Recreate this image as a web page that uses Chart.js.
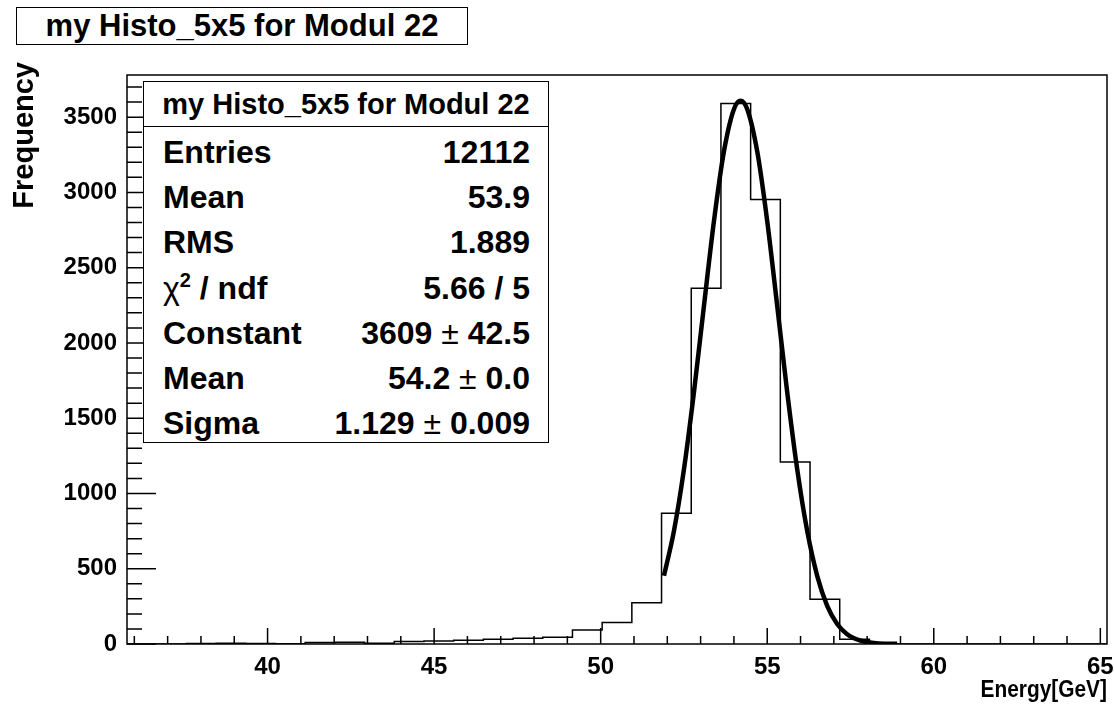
<!DOCTYPE html>
<html>
<head>
<meta charset="utf-8">
<title>my Histo_5x5 for Modul 22</title>
<script src="https://cdn.jsdelivr.net/npm/chart.js@4.4.1/dist/chart.umd.min.js"></script>
<style>
  body { margin: 0; background: #fff; }
  #wrap { position: relative; width: 1114px; height: 706px; font-family: "Liberation Sans", Arial, sans-serif; font-weight: bold; color: #000; }
  #c { position: absolute; left: 0; top: 0; }
  .box { position: absolute; box-sizing: border-box; border: 1.5px solid #000; background: #fff; }
  #titleBox { left: 16px; top: 7px; width: 452px; height: 38px; font-size: 31px; line-height: 36px; text-align: center; }
  #statsBox { left: 143px; top: 81px; width: 406px; height: 362px; }
  #statsHead { height: 45px; border-bottom: 1.5px solid #000; box-sizing: border-box; font-size: 29px; line-height: 44px; text-align: center; }
  .row { display: flex; justify-content: space-between; height: 45.2px; line-height: 50px; font-size: 32px; padding: 0 18px 0 19px; }
  .sym { font-weight: normal; }
  sup { font-size: 20px; line-height: 0; }
</style>
</head>
<body>
<div id="wrap">
  <canvas id="c" width="1114" height="706"></canvas>
  <div id="titleBox" class="box"></div>
  <div id="statsBox" class="box"><div id="statsHead"></div><div id="statsRows"></div></div>
</div>
<script>
// histogram: 33 bins between histMin and histMax
const histTitle = 'my Histo_5x5 for Modul 22';
const histMin = 35.78;
const histMax = 65.2;
const binCounts = [0, 0, 4, 5, 4, 1, 10, 12, 5, 16, 20, 25, 31, 38, 45, 93, 142, 274, 869,
  2363, 3590, 2953, 1209, 298, 31, 2, 0, 0, 0, 0, 0, 0, 0];

// gaussian fit curve
const fitX = [51.9, 52.2, 52.5, 52.8, 53.1, 53.4, 53.7, 54.0, 54.2, 54.4, 54.7, 55.0, 55.3,
  55.6, 55.9, 56.2, 56.5, 56.8, 57.1, 57.4, 57.8, 58.2, 58.6, 58.9];
const fitY = [453, 751, 1161, 1673, 2245, 2808, 3272, 3553, 3609, 3553, 3272, 2808, 2245,
  1673, 1161, 751, 453, 254, 133, 65, 22, 7, 2, 1];

const xTickLabels = [40, 45, 50, 55, 60, 65];
const yTickLabels = [0, 500, 1000, 1500, 2000, 2500, 3000, 3500];
const yMax = 3780;

const statNames = ['Entries', 'Mean', 'RMS', '<span class="sym">&chi;</span><sup>2</sup> / ndf', 'Constant', 'Mean', 'Sigma'];
const statValues = ['12112', '53.9', '1.889', '5.66 / 5',
  '3609 <span class="sym">&plusmn;</span> 42.5', '54.2 <span class="sym">&plusmn;</span> 0.0', '1.129 <span class="sym">&plusmn;</span> 0.009'];

document.getElementById('titleBox').textContent = histTitle;
document.getElementById('statsHead').textContent = histTitle;
const rows = document.getElementById('statsRows');
statNames.forEach((n, i) => {
  const r = document.createElement('div');
  r.className = 'row';
  r.innerHTML = '<span>' + n + '</span><span>' + statValues[i] + '</span>';
  rows.appendChild(r);
});

// step points for the histogram outline
const binWidth = (histMax - histMin) / binCounts.length;
const histPoints = [{ x: histMin, y: 0 }];
binCounts.forEach((c, i) => histPoints.push({ x: histMin + i * binWidth, y: c }));
histPoints.push({ x: histMax, y: 0 });

const fitPoints = fitX.map((x, i) => ({ x: x, y: fitY[i] }));

const tickFont = { family: '"Liberation Sans", Arial, sans-serif', size: 24, weight: 'bold' };

// ROOT style frame, inner ticks and axis titles
const rootAxes = {
  id: 'rootAxes',
  afterDraw(chart) {
    const ctx = chart.ctx;
    const a = chart.chartArea;
    const xs = chart.scales.x, ys = chart.scales.y;
    ctx.save();
    ctx.strokeStyle = '#000';
    ctx.lineWidth = 1.5;
    ctx.strokeRect(a.left, a.top, a.right - a.left, a.bottom - a.top);
    ctx.beginPath();
    for (let v = 36; v <= 65; v++) {
      const px = xs.getPixelForValue(v);
      const len = v % 5 === 0 ? 16 : 8;
      ctx.moveTo(px, a.bottom);
      ctx.lineTo(px, a.bottom - len);
    }
    for (let v = 0; v <= 3700; v += 100) {
      const py = ys.getPixelForValue(v);
      const len = v % 500 === 0 ? 29 : 15;
      ctx.moveTo(a.left, py);
      ctx.lineTo(a.left + len, py);
    }
    ctx.stroke();

    ctx.fillStyle = '#000';
    ctx.textAlign = 'right';
    ctx.textBaseline = 'middle';
    // x title, a bit condensed like the ROOT font
    ctx.save();
    ctx.translate(a.right, 690);
    ctx.scale(0.87, 1);
    ctx.font = 'bold 24px "Liberation Sans", Arial, sans-serif';
    ctx.fillText('Energy[GeV]', 0, 0);
    ctx.restore();
    ctx.font = 'bold 29px "Liberation Sans", Arial, sans-serif';
    ctx.translate(25, a.top - 13);
    ctx.rotate(-Math.PI / 2);
    ctx.fillText('Frequency', 0, 0);
    ctx.restore();
  }
};

new Chart(document.getElementById('c'), {
  type: 'line',
  data: {
    datasets: [
      { label: 'fit', data: fitPoints, borderColor: '#000', borderWidth: 4.5, pointRadius: 0,
        cubicInterpolationMode: 'monotone', fill: false },
      { label: 'hist', data: histPoints, borderColor: '#000', borderWidth: 1.5, pointRadius: 0,
        stepped: 'before', fill: false }
    ]
  },
  options: {
    responsive: false,
    animation: false,
    layout: { padding: { top: 75, right: 7, left: 0, bottom: 0 } },
    plugins: { legend: { display: false }, tooltip: { enabled: false } },
    scales: {
      x: {
        type: 'linear', min: histMin, max: histMax,
        afterBuildTicks: s => { s.ticks = xTickLabels.map(v => ({ value: v })); },
        afterFit: s => { s.height = 62; s.paddingLeft = 0; s.paddingRight = 0; },
        grid: { display: false, drawTicks: false },
        border: { display: false },
        ticks: { font: tickFont, color: '#000', padding: 9, maxRotation: 0, autoSkip: false,
          callback: v => String(v) }
      },
      y: {
        type: 'linear', min: 0, max: yMax,
        afterBuildTicks: s => { s.ticks = yTickLabels.map(v => ({ value: v })); },
        afterFit: s => { s.width = 127; s.paddingTop = 0; s.paddingBottom = 0; },
        grid: { display: false, drawTicks: false },
        border: { display: false },
        ticks: { font: tickFont, color: '#000', padding: 10, autoSkip: false,
          callback: v => String(v) }
      }
    }
  },
  plugins: [rootAxes]
});
</script>
</body>
</html>
